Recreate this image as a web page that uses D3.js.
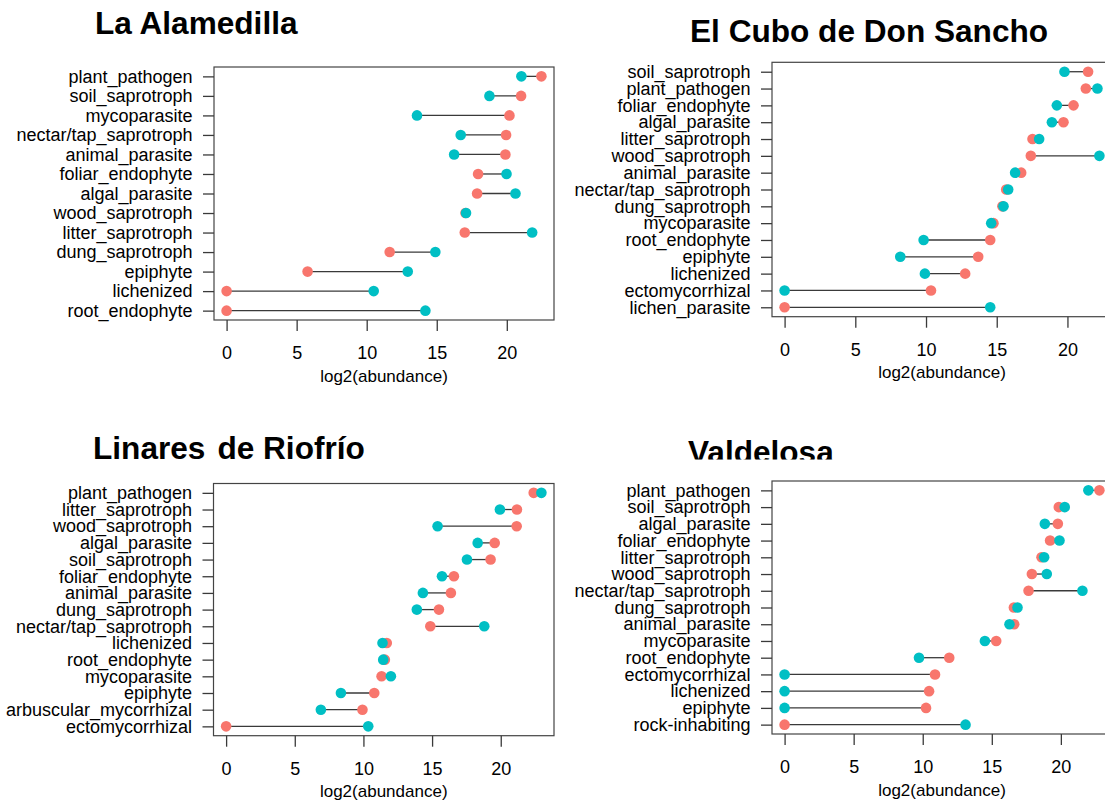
<!DOCTYPE html>
<html><head><meta charset="utf-8">
<script src="https://cdn.jsdelivr.net/npm/d3@7"></script>
<style>body{margin:0;background:#fff} svg{display:block}</style>
</head><body>
<svg id="chart" width="1105" height="800"></svg>
<script>
// ---------- data ----------
const xTicks = [0, 5, 10, 15, 20];
const xLabel = "log2(abundance)";
const titles = ["La Alamedilla", "El Cubo de Don Sancho", "Linares de Riofrío", "Valdelosa"];

const alamedillaCats = ["plant_pathogen","soil_saprotroph","mycoparasite","nectar/tap_saprotroph","animal_parasite","foliar_endophyte","algal_parasite","wood_saprotroph","litter_saprotroph","dung_saprotroph","epiphyte","lichenized","root_endophyte"];
const alamedillaRed  = [22.47, 21.02, 20.19, 19.95, 19.90, 17.95, 17.88, 17.05, 17.00, 11.64, 5.78, 0, 0];
const alamedillaTeal = [21.04, 18.76, 13.59, 16.71, 16.24, 19.98, 20.62, 17.09, 21.81, 14.90, 12.93, 10.50, 14.19];

const cuboCats = ["soil_saprotroph","plant_pathogen","foliar_endophyte","algal_parasite","litter_saprotroph","wood_saprotroph","animal_parasite","nectar/tap_saprotroph","dung_saprotroph","mycoparasite","root_endophyte","epiphyte","lichenized","ectomycorrhizal","lichen_parasite"];
const cuboRed  = [21.46, 21.30, 20.43, 19.72, 17.53, 17.41, 16.73, 15.67, 15.40, 14.77, 14.54, 13.69, 12.77, 10.35, 0];
const cuboTeal = [19.79, 22.12, 19.25, 18.90, 18.00, 22.26, 16.30, 15.81, 15.48, 14.61, 9.83, 8.18, 9.92, 0, 14.54];

const linaresCats = ["plant_pathogen","litter_saprotroph","wood_saprotroph","algal_parasite","soil_saprotroph","foliar_endophyte","animal_parasite","dung_saprotroph","nectar/tap_saprotroph","lichenized","root_endophyte","mycoparasite","epiphyte","arbuscular_mycorrhizal","ectomycorrhizal"];
const linaresRed  = [22.40, 21.18, 21.16, 19.56, 19.26, 16.59, 16.37, 15.50, 14.87, 11.70, 11.56, 11.32, 10.79, 9.93, 0];
const linaresTeal = [22.96, 19.94, 15.40, 18.32, 17.54, 15.72, 14.33, 13.89, 18.80, 11.39, 11.44, 12.00, 8.36, 6.90, 10.35];

const valdelosaCats = ["plant_pathogen","soil_saprotroph","algal_parasite","foliar_endophyte","litter_saprotroph","wood_saprotroph","nectar/tap_saprotroph","dung_saprotroph","animal_parasite","mycoparasite","root_endophyte","ectomycorrhizal","lichenized","epiphyte","rock-inhabiting"];
const valdelosaRed  = [22.79, 19.85, 19.78, 19.22, 18.60, 17.90, 17.66, 16.60, 16.62, 15.32, 11.92, 10.89, 10.46, 10.24, 0];
const valdelosaTeal = [21.99, 20.28, 18.84, 19.90, 18.79, 18.98, 21.56, 16.86, 16.28, 14.50, 9.73, 0, 0, 0, 13.10];

// ---------- layout / style ----------
const RED = "#F8766D", TEAL = "#00BFC4", LINE = "#3a3a3a";
const FONT = "'Liberation Sans', Arial, Helvetica, sans-serif";
const layout = [
  {left: 214,   top: 67,    width: 340, height: 253,   titleX: 95,  titleY: 34},
  {left: 772,   top: 62.3,  width: 340, height: 254.4, titleX: 690, titleY: 41.7},
  {left: 213.5, top: 483.5, width: 340.5, height: 252.2, titleX: 93, titleY: 459.3, gap: true},
  {left: 772,   top: 481,   width: 340, height: 253,   titleX: 688, titleY: 462.8, clipBottom: 459.5}
];
const panels = [
  {cats: alamedillaCats, red: alamedillaRed, teal: alamedillaTeal},
  {cats: cuboCats,       red: cuboRed,       teal: cuboTeal},
  {cats: linaresCats,    red: linaresRed,    teal: linaresTeal},
  {cats: valdelosaCats,  red: valdelosaRed,  teal: valdelosaTeal}
];

const svg = d3.select("#chart");
const defs = svg.append("defs");

panels.forEach((p, i) => {
  const L = layout[i];
  const n = p.cats.length;
  const maxV = d3.max(p.red.concat(p.teal));
  const ext = 0.04 * maxV;
  const x = d3.scaleLinear().domain([0 - ext, maxV + ext]).range([L.left, L.left + L.width]);
  const yExt = 0.04 * (n - 1);
  const y = d3.scaleLinear().domain([1 - yExt, n + yExt]).range([L.top, L.top + L.height]);
  const rows = d3.range(n).map(k => ({cat: p.cats[k], r: p.red[k], t: p.teal[k], idx: k + 1}));

  const g = svg.append("g");

  // title
  let tg = g;
  if (L.clipBottom) {
    defs.append("clipPath").attr("id", "clipT" + i)
      .append("rect").attr("x", 0).attr("y", 0).attr("width", 1105).attr("height", L.clipBottom);
    tg = g.append("g").attr("clip-path", `url(#clipT${i})`);
  }
  const title = tg.append("text").attr("x", L.titleX).attr("y", L.titleY)
    .attr("font-family", FONT).attr("font-weight", "bold").attr("font-size", 31.6).attr("fill", "#000");
  if (L.gap) {
    const parts = titles[i].split(" ");
    title.append("tspan").text(parts[0]);
    title.append("tspan").attr("dx", 12).text(parts.slice(1).join(" "));
  } else {
    title.text(titles[i]);
  }

  // segments
  g.append("g").selectAll("line").data(rows).join("line")
    .attr("x1", d => x(d.r)).attr("x2", d => x(d.t))
    .attr("y1", d => y(d.idx)).attr("y2", d => y(d.idx))
    .attr("stroke", LINE).attr("stroke-width", 1.3);

  // points
  g.append("g").selectAll("circle").data(rows).join("circle")
    .attr("cx", d => x(d.r)).attr("cy", d => y(d.idx)).attr("r", 5.3).attr("fill", RED);
  g.append("g").selectAll("circle").data(rows).join("circle")
    .attr("cx", d => x(d.t)).attr("cy", d => y(d.idx)).attr("r", 5.3).attr("fill", TEAL);

  // box
  g.append("rect").attr("x", L.left).attr("y", L.top).attr("width", L.width).attr("height", L.height)
    .attr("fill", "none").attr("stroke", "#444").attr("stroke-width", 1.2);

  // y axis
  const ya = g.append("g").attr("transform", `translate(${L.left},0)`)
    .call(d3.axisLeft(y).tickValues(d3.range(1, n + 1)).tickFormat(k => p.cats[k - 1])
      .tickSize(11).tickPadding(10.5));
  ya.select(".domain").remove();
  ya.attr("font-family", FONT).attr("font-size", 18).attr("color", LINE);
  ya.selectAll(".tick line").attr("stroke-width", 1.3);
  ya.selectAll(".tick text").attr("fill", "#000");

  // x axis
  const xa = g.append("g").attr("transform", `translate(0,${L.top + L.height})`)
    .call(d3.axisBottom(x).tickValues(xTicks).tickFormat(d3.format("d")).tickSize(11).tickPadding(15.5));
  xa.select(".domain").remove();
  xa.attr("font-family", FONT).attr("font-size", 18).attr("color", LINE);
  xa.selectAll(".tick line").attr("stroke-width", 1.3);
  xa.selectAll(".tick text").attr("fill", "#000");

  g.append("text").attr("x", L.left + L.width / 2).attr("y", L.top + L.height + 61.5)
    .attr("text-anchor", "middle").attr("font-family", FONT).attr("font-size", 17).attr("fill", "#000")
    .text(xLabel);
});
</script>
</body></html>
